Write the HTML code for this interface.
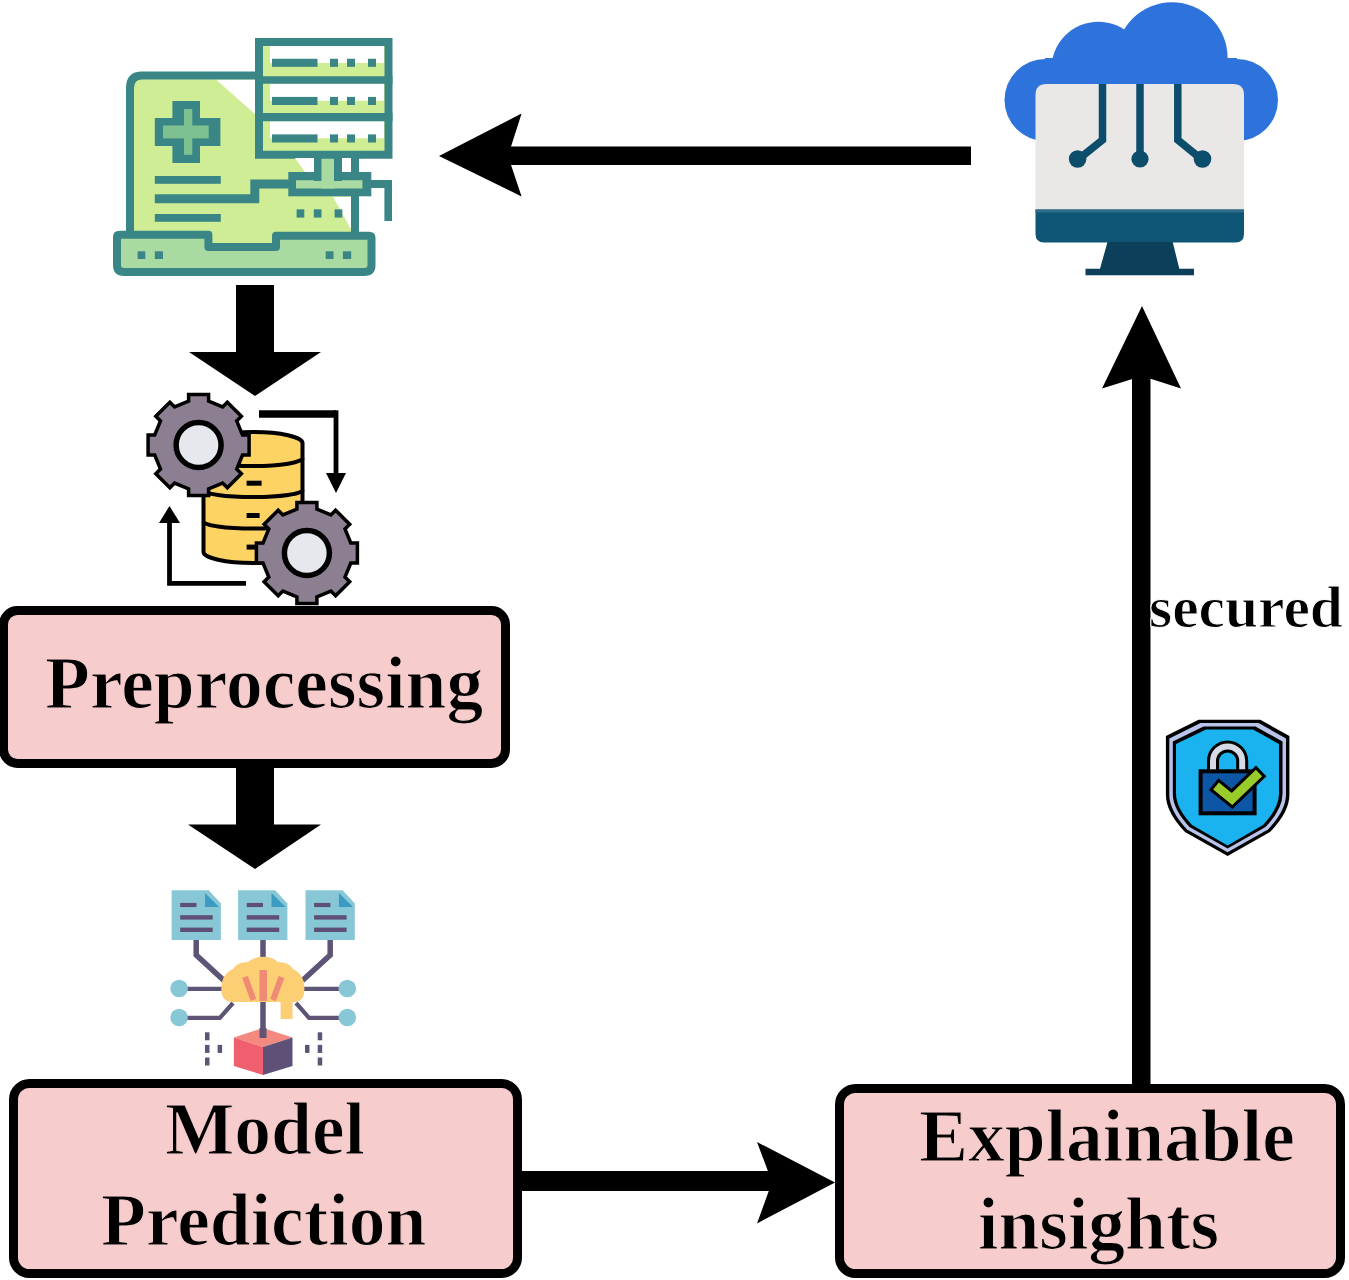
<!DOCTYPE html>
<html>
<head>
<meta charset="utf-8">
<style>
html,body{margin:0;padding:0;background:#fff;}
body{width:1349px;height:1280px;position:relative;overflow:hidden;}
svg{position:absolute;left:0;top:0;}
.t{position:absolute;-webkit-text-stroke:1.2px #f6cdcc;font-family:"Liberation Serif",serif;font-weight:bold;font-size:73.5px;line-height:1;white-space:nowrap;color:#000;}
</style>
</head>
<body>
<svg width="1349" height="1280" viewBox="0 0 1349 1280">
<!-- boxes -->
<rect x="3.5" y="610.5" width="502" height="153" rx="14" fill="#f6cdcc" stroke="#000" stroke-width="9"/>
<rect x="13.5" y="1083.5" width="504" height="190" rx="16" fill="#f6cdcc" stroke="#000" stroke-width="9"/>
<rect x="839.5" y="1088.5" width="501" height="185" rx="16" fill="#f6cdcc" stroke="#000" stroke-width="9"/>

<!-- arrows -->
<g fill="#000">
<rect x="506" y="146.5" width="465" height="18.5"/>
<polygon points="439,156 521.6,113.5 508,156 521.6,196.5"/>
<rect x="236" y="285" width="38" height="68"/>
<polygon points="189,352 321,352 255,396"/>
<rect x="236" y="766" width="38" height="60"/>
<polygon points="188,824.5 321,824.5 255,869"/>
<rect x="1132" y="370" width="18.5" height="718"/>
<polygon points="1142,306 1181,388.6 1142,376 1102,388.6"/>
<rect x="518" y="1171" width="256" height="20"/>
<polygon points="835,1182.5 757,1223.5 772,1182 757,1142"/>
</g>
<!-- ICON1 medical server -->
<g id="icon1">
<!-- screen fill -->
<path d="M130,88 Q130,76 142,76 H356 V247 H130 Z" fill="#cfed94"/>
<polygon points="216,79.5 256,79.5 256,115" fill="#fff"/>
<polygon points="333,196.7 351.4,196.7 351.4,230" fill="#fff"/>
<!-- monitor stroke -->
<path d="M130,233 V88 Q130,75.5 142,75.5 H258" fill="none" stroke="#3a8686" stroke-width="8"/>
<rect x="351" y="150" width="8" height="86" fill="#3a8686"/>
<!-- cross -->
<rect x="172.4" y="101" width="27.6" height="62" fill="#3a8686"/>
<rect x="154.8" y="118" width="65.6" height="28" fill="#3a8686"/>
<rect x="184" y="109" width="8.3" height="45.8" fill="#7ec191"/>
<rect x="163" y="125.5" width="45.7" height="12.9" fill="#7ec191"/>
<!-- text lines -->
<rect x="154.8" y="176" width="66" height="7.8" fill="#3a8686"/>
<rect x="154.8" y="214" width="66" height="7.8" fill="#3a8686"/>
<path d="M154.8,198.7 H254.8 V184 H292" fill="none" stroke="#3a8686" stroke-width="9"/>
<!-- dots screen -->
<rect x="296.6" y="209.3" width="7.7" height="8.3" fill="#3a8686"/>
<rect x="313.8" y="209.3" width="7.7" height="8.3" fill="#3a8686"/>
<rect x="334.6" y="209.3" width="7.7" height="8.3" fill="#3a8686"/>
<!-- base -->
<path d="M117,237 Q117,234.7 119.5,234.7 H208.4 V247 H276 V235.7 H369 Q371.5,235.7 371.5,238 V265 Q371.5,272 364.5,272 H124 Q117,272 117,265 Z" fill="#a8daa1" stroke="#3a8686" stroke-width="8" stroke-linejoin="round"/>
<rect x="137.6" y="251.3" width="7.7" height="7.7" fill="#3a8686"/>
<rect x="154.8" y="251.3" width="8.2" height="7.7" fill="#3a8686"/>
<rect x="325.7" y="251.3" width="7.8" height="7.7" fill="#3a8686"/>
<rect x="342.9" y="251.3" width="8.3" height="7.7" fill="#3a8686"/>
<!-- server -->
<rect x="259" y="42" width="129.5" height="112.75" fill="#cfed94" stroke="#3a8686" stroke-width="8"/>
<rect x="270" y="46" width="114" height="17" fill="#fff"/>
<rect x="270" y="83.75" width="114" height="17" fill="#fff"/>
<rect x="270" y="121.25" width="114" height="17" fill="#fff"/>
<rect x="255" y="76.25" width="137.5" height="7.5" fill="#3a8686"/>
<rect x="255" y="113" width="137.5" height="8.25" fill="#3a8686"/>
<g fill="#3a8686">
<rect x="272" y="58.75" width="45.5" height="8.1"/><rect x="330" y="58.75" width="8" height="8.1"/><rect x="347" y="58.75" width="8" height="8.1"/><rect x="368" y="58.75" width="8" height="8.1"/>
<rect x="272" y="96.9" width="45.5" height="8.1"/><rect x="330" y="96.9" width="8" height="8.1"/><rect x="347" y="96.9" width="8" height="8.1"/><rect x="368" y="96.9" width="8" height="8.1"/>
<rect x="272" y="134.4" width="45.5" height="8.1"/><rect x="330" y="134.4" width="8" height="8.1"/><rect x="347" y="134.4" width="8" height="8.1"/><rect x="368" y="134.4" width="8" height="8.1"/>
</g>
<!-- stand -->
<rect x="288.3" y="172" width="83" height="24.3" fill="#3a8686"/>
<rect x="296" y="180.2" width="66.4" height="8.3" fill="#a8daa1"/>
<rect x="313.8" y="158" width="28.2" height="23" fill="#3a8686"/>
<rect x="321.5" y="158.75" width="12.5" height="29.75" fill="#a8daa1"/>
<rect x="342" y="158" width="9" height="14" fill="#fff"/>
<polygon points="295,158 314,158 314,172 305,172" fill="#fff"/>
<!-- right wire -->
<rect x="371" y="180" width="21" height="8" fill="#3a8686"/>
<rect x="384.4" y="180" width="7.6" height="41" fill="#3a8686"/>
</g>

<!-- ICON2 cloud monitor -->
<g id="icon2">
<g fill="#2e73dc">
<circle cx="1172" cy="57.9" r="55.6"/>
<circle cx="1098.4" cy="68.7" r="47"/>
<circle cx="1045.5" cy="100" r="41"/>
<circle cx="1237" cy="100" r="41"/>
<rect x="1045" y="58" width="192" height="40"/>
</g>
<path d="M1035.5,95 Q1035.5,84 1046.5,84 H1233 Q1244,84 1244,95 V209.5 H1035.5 Z" fill="#e9e8e6"/>
<path d="M1035.5,209.5 H1244 V234 Q1244,242.5 1235.5,242.5 H1044 Q1035.5,242.5 1035.5,234 Z" fill="#0f5576"/>
<rect x="1035.5" y="209.5" width="208.5" height="3" fill="#2f6d86"/>
<path d="M1107.5,242 H1172.7 L1179.3,268.7 H1194 V275.2 H1085.5 V268.7 H1100 Z" fill="#0b3f5a"/>
<g stroke="#0d4d6c" stroke-width="7.5" fill="none">
<path d="M1102.5,84 V140 L1080,158"/>
<path d="M1140,84 V158"/>
<path d="M1177.8,84 V140 L1200,158"/>
</g>
<g fill="#0d4d6c">
<circle cx="1077.6" cy="159" r="8.8"/>
<circle cx="1140" cy="159" r="8.6"/>
<circle cx="1202.5" cy="159" r="8.8"/>
</g>
</g>

<!-- ICON3 gears db -->
<g id="icon3">
<!-- db -->
<path d="M203.5,443 A49.5,11 0 0 1 302.5,443 V552 A49.5,11 0 0 1 203.5,552 Z" fill="#fdd364" stroke="#000" stroke-width="4"/>
<g fill="none" stroke="#000" stroke-width="4">
<path d="M203.5,458 A49.5,8 0 0 0 302.5,458"/>
<path d="M203.5,490 A49.5,7 0 0 0 302.5,490"/>
<path d="M203.5,521.5 A49.5,7 0 0 0 302.5,521.5"/>
</g>
<rect x="246.6" y="480.7" width="15" height="5" fill="#000"/>
<rect x="246.6" y="513" width="13" height="5" fill="#000"/>
<rect x="246.6" y="544.6" width="13" height="5" fill="#000"/>
<!-- gears -->
<polygon points="242.5,435.0 249.1,435.0 249.1,455.0 242.5,455.0 236.7,469.0 241.4,473.7 227.3,487.8 222.6,483.1 208.6,488.9 208.6,495.5 188.6,495.5 188.6,488.9 174.6,483.1 169.9,487.8 155.8,473.7 160.5,469.0 154.7,455.0 148.1,455.0 148.1,435.0 154.7,435.0 160.5,421.0 155.8,416.3 169.9,402.2 174.6,406.9 188.6,401.1 188.6,394.5 208.6,394.5 208.6,401.1 222.6,406.9 227.3,402.2 241.4,416.3 236.7,421.0" fill="#8b7f91" stroke="#000" stroke-width="3.5" stroke-linejoin="miter"/>
<circle cx="198.6" cy="445" r="22.5" fill="#e6e8ee" stroke="#000" stroke-width="5.5"/>
<polygon points="350.8,543.0 357.4,543.0 357.4,563.0 350.8,563.0 345.0,577.0 349.7,581.7 335.6,595.8 330.9,591.1 316.9,596.9 316.9,603.5 296.9,603.5 296.9,596.9 282.9,591.1 278.2,595.8 264.1,581.7 268.8,577.0 263.0,563.0 256.4,563.0 256.4,543.0 263.0,543.0 268.8,529.0 264.1,524.3 278.2,510.2 282.9,514.9 296.9,509.1 296.9,502.5 316.9,502.5 316.9,509.1 330.9,514.9 335.6,510.2 349.7,524.3 345.0,529.0" fill="#8b7f91" stroke="#000" stroke-width="3.5" stroke-linejoin="miter"/>
<circle cx="306.9" cy="553" r="22.5" fill="#e6e8ee" stroke="#000" stroke-width="5.5"/>
<!-- small arrows -->
<path d="M259,414 H336" fill="none" stroke="#000" stroke-width="7.5"/>
<path d="M336,410.3 V476" fill="none" stroke="#000" stroke-width="4.8"/>
<polygon points="326,473 346,473 336,493" fill="#000"/>
<path d="M246,583.3 H169.5 V520" fill="none" stroke="#000" stroke-width="4.8"/>
<polygon points="159,523 180,523 169.5,506" fill="#000"/>
</g>

<!-- ICON4 model prediction -->
<g id="icon4">
<polygon points="171.6,890.2 208.7,890.2 220.89999999999998,903.4 220.89999999999998,940 171.6,940" fill="#88c8d6"/>
<polygon points="205.0,893 205.0,907 219.1,907" fill="#3b9bc2"/>
<rect x="180.2" y="902.9" width="16.3" height="4.2" fill="#5d4f77"/>
<rect x="180.2" y="915.2" width="32.5" height="4.4" fill="#5d4f77"/>
<rect x="180.2" y="927.6" width="32.5" height="4.4" fill="#5d4f77"/><polygon points="238.1,890.2 275.2,890.2 287.4,903.4 287.4,940 238.1,940" fill="#88c8d6"/>
<polygon points="271.5,893 271.5,907 285.6,907" fill="#3b9bc2"/>
<rect x="246.7" y="902.9" width="16.3" height="4.2" fill="#5d4f77"/>
<rect x="246.7" y="915.2" width="32.5" height="4.4" fill="#5d4f77"/>
<rect x="246.7" y="927.6" width="32.5" height="4.4" fill="#5d4f77"/><polygon points="305.5,890.2 342.6,890.2 354.8,903.4 354.8,940 305.5,940" fill="#88c8d6"/>
<polygon points="338.9,893 338.9,907 353.0,907" fill="#3b9bc2"/>
<rect x="314.1" y="902.9" width="16.3" height="4.2" fill="#5d4f77"/>
<rect x="314.1" y="915.2" width="32.5" height="4.4" fill="#5d4f77"/>
<rect x="314.1" y="927.6" width="32.5" height="4.4" fill="#5d4f77"/>
<g fill="none" stroke="#5e5475" stroke-width="5.5" stroke-linejoin="miter">
<path d="M196.2,940 V955 L223.9,980.5"/>
<path d="M263,940 V960"/>
<path d="M330.2,940 V955 L302.5,980.5"/>
<path d="M263,1000 V1035.2"/>
</g>
<g fill="none" stroke="#5e5475" stroke-width="4.2">
<path d="M186,988.9 H225"/>
<path d="M186,1017.8 H219.9 L233,1003"/>
<path d="M300,988.9 H341"/>
<path d="M296,1003 L309,1017.8 H341"/>
</g>
<g fill="#88c8d6">
<circle cx="179.1" cy="988.5" r="8.8"/>
<circle cx="179.1" cy="1017.5" r="8.8"/>
<circle cx="347.3" cy="988.5" r="8.8"/>
<circle cx="347.3" cy="1017.5" r="8.8"/>
</g>
<!-- brain -->
<path d="M221.3,989 Q221.3,974 233,969 Q237,962 248,962 Q254,956.7 263,956.7 Q272,956.7 278,962 Q289,962 293,969 Q304.4,974 304.4,989 Q304.4,1002 294,1002 H292.5 V1019 H280.6 V1002 H233 Q221.3,1002 221.3,989 Z" fill="#fccf75"/>
<g fill="none" stroke="#f08a74">
<path d="M263.2,970 V1001" stroke-width="7.5"/>
<path d="M245,977 L253.5,1000" stroke-width="6"/>
<path d="M281.5,977 L273,1000" stroke-width="6"/>
</g>
<!-- cube -->
<polygon points="263,1028 292.5,1037.5 263,1047 233.9,1037.5" fill="#f48a7f"/>
<polygon points="233.9,1037.5 263,1047 263,1075 233.9,1066" fill="#ef5f6e"/>
<polygon points="263,1047 292.5,1037.5 292.5,1066 263,1075" fill="#5e5077"/>
<rect x="259.5" y="1028" width="7" height="10" fill="#5e5475"/>
<!-- dashes -->
<g fill="#5e5475">
<rect x="205" y="1032.3" width="4.5" height="8"/><rect x="205" y="1044.9" width="4.5" height="8"/><rect x="205" y="1057.5" width="4.5" height="8"/>
<rect x="217.6" y="1044.9" width="4.5" height="8"/>
<rect x="317.7" y="1032.3" width="4.5" height="8"/><rect x="317.7" y="1044.9" width="4.5" height="8"/><rect x="317.7" y="1057.5" width="4.5" height="8"/>
<rect x="305" y="1044.9" width="4.5" height="8"/>
</g>
</g>

<!-- ICON5 shield -->
<g id="icon5">
<path d="M1198.6,719.7 H1260.3 L1289.4,736 V794.7 Q1289.4,812 1270,832 L1227.6,855.9 L1185,832 Q1165.9,812 1165.9,794.7 V736 Z" fill="#000"/>
<path d="M1200.5,723 H1258.5 L1286,738.5 V794.5 Q1286,810.5 1268,829.5 L1227.6,852.3 L1187,829.5 Q1169.3,810.5 1169.3,794.5 V738.5 Z" fill="#b9c4ea"/>
<path d="M1203.5,726.5 H1255.5 L1282.5,741.5 V794 Q1282.5,809 1265.5,827 L1227.6,848.5 L1189.5,827 Q1172.8,809 1172.8,794 V741.5 Z" fill="#000"/>
<path d="M1206,729.5 H1253 L1279,744 V793.5 Q1279,808 1263,825 L1227.6,845.5 L1192,825 Q1176,808 1176,793.5 V744 Z" fill="#1ab2ef"/>
<!-- shackle -->
<path d="M1213,772 V761 A14.6,14.6 0 0 1 1242.2,761 V772" fill="none" stroke="#000" stroke-width="12"/>
<path d="M1213,772 V761 A14.6,14.6 0 0 1 1242.2,761 V772" fill="none" stroke="#d6dae6" stroke-width="6"/>
<!-- body -->
<rect x="1200.6" y="771.3" width="54" height="42" fill="#0d55a5" stroke="#000" stroke-width="4"/>
<!-- check -->
<path d="M1213.7,784.1 L1232,799 L1261.2,770.9" fill="none" stroke="#000" stroke-width="15"/>
<path d="M1216,786 L1232,799 L1259,773" fill="none" stroke="#98cc2a" stroke-width="9"/>
</g>

<!--ICONS-->
</svg>
<div class="t" style="left:45px;top:646.7px">Preprocessing</div>
<div class="t" style="left:165px;top:1093px">Model</div>
<div class="t" style="left:101px;top:1184px">Prediction</div>
<div class="t" style="left:919px;top:1100px">Explainable</div>
<div class="t" style="left:978px;top:1188px">insights</div>
<div class="t" style="left:1149px;top:577.5px;font-size:59.5px;-webkit-text-stroke:1px #fff">secured</div>
</body>
</html>
